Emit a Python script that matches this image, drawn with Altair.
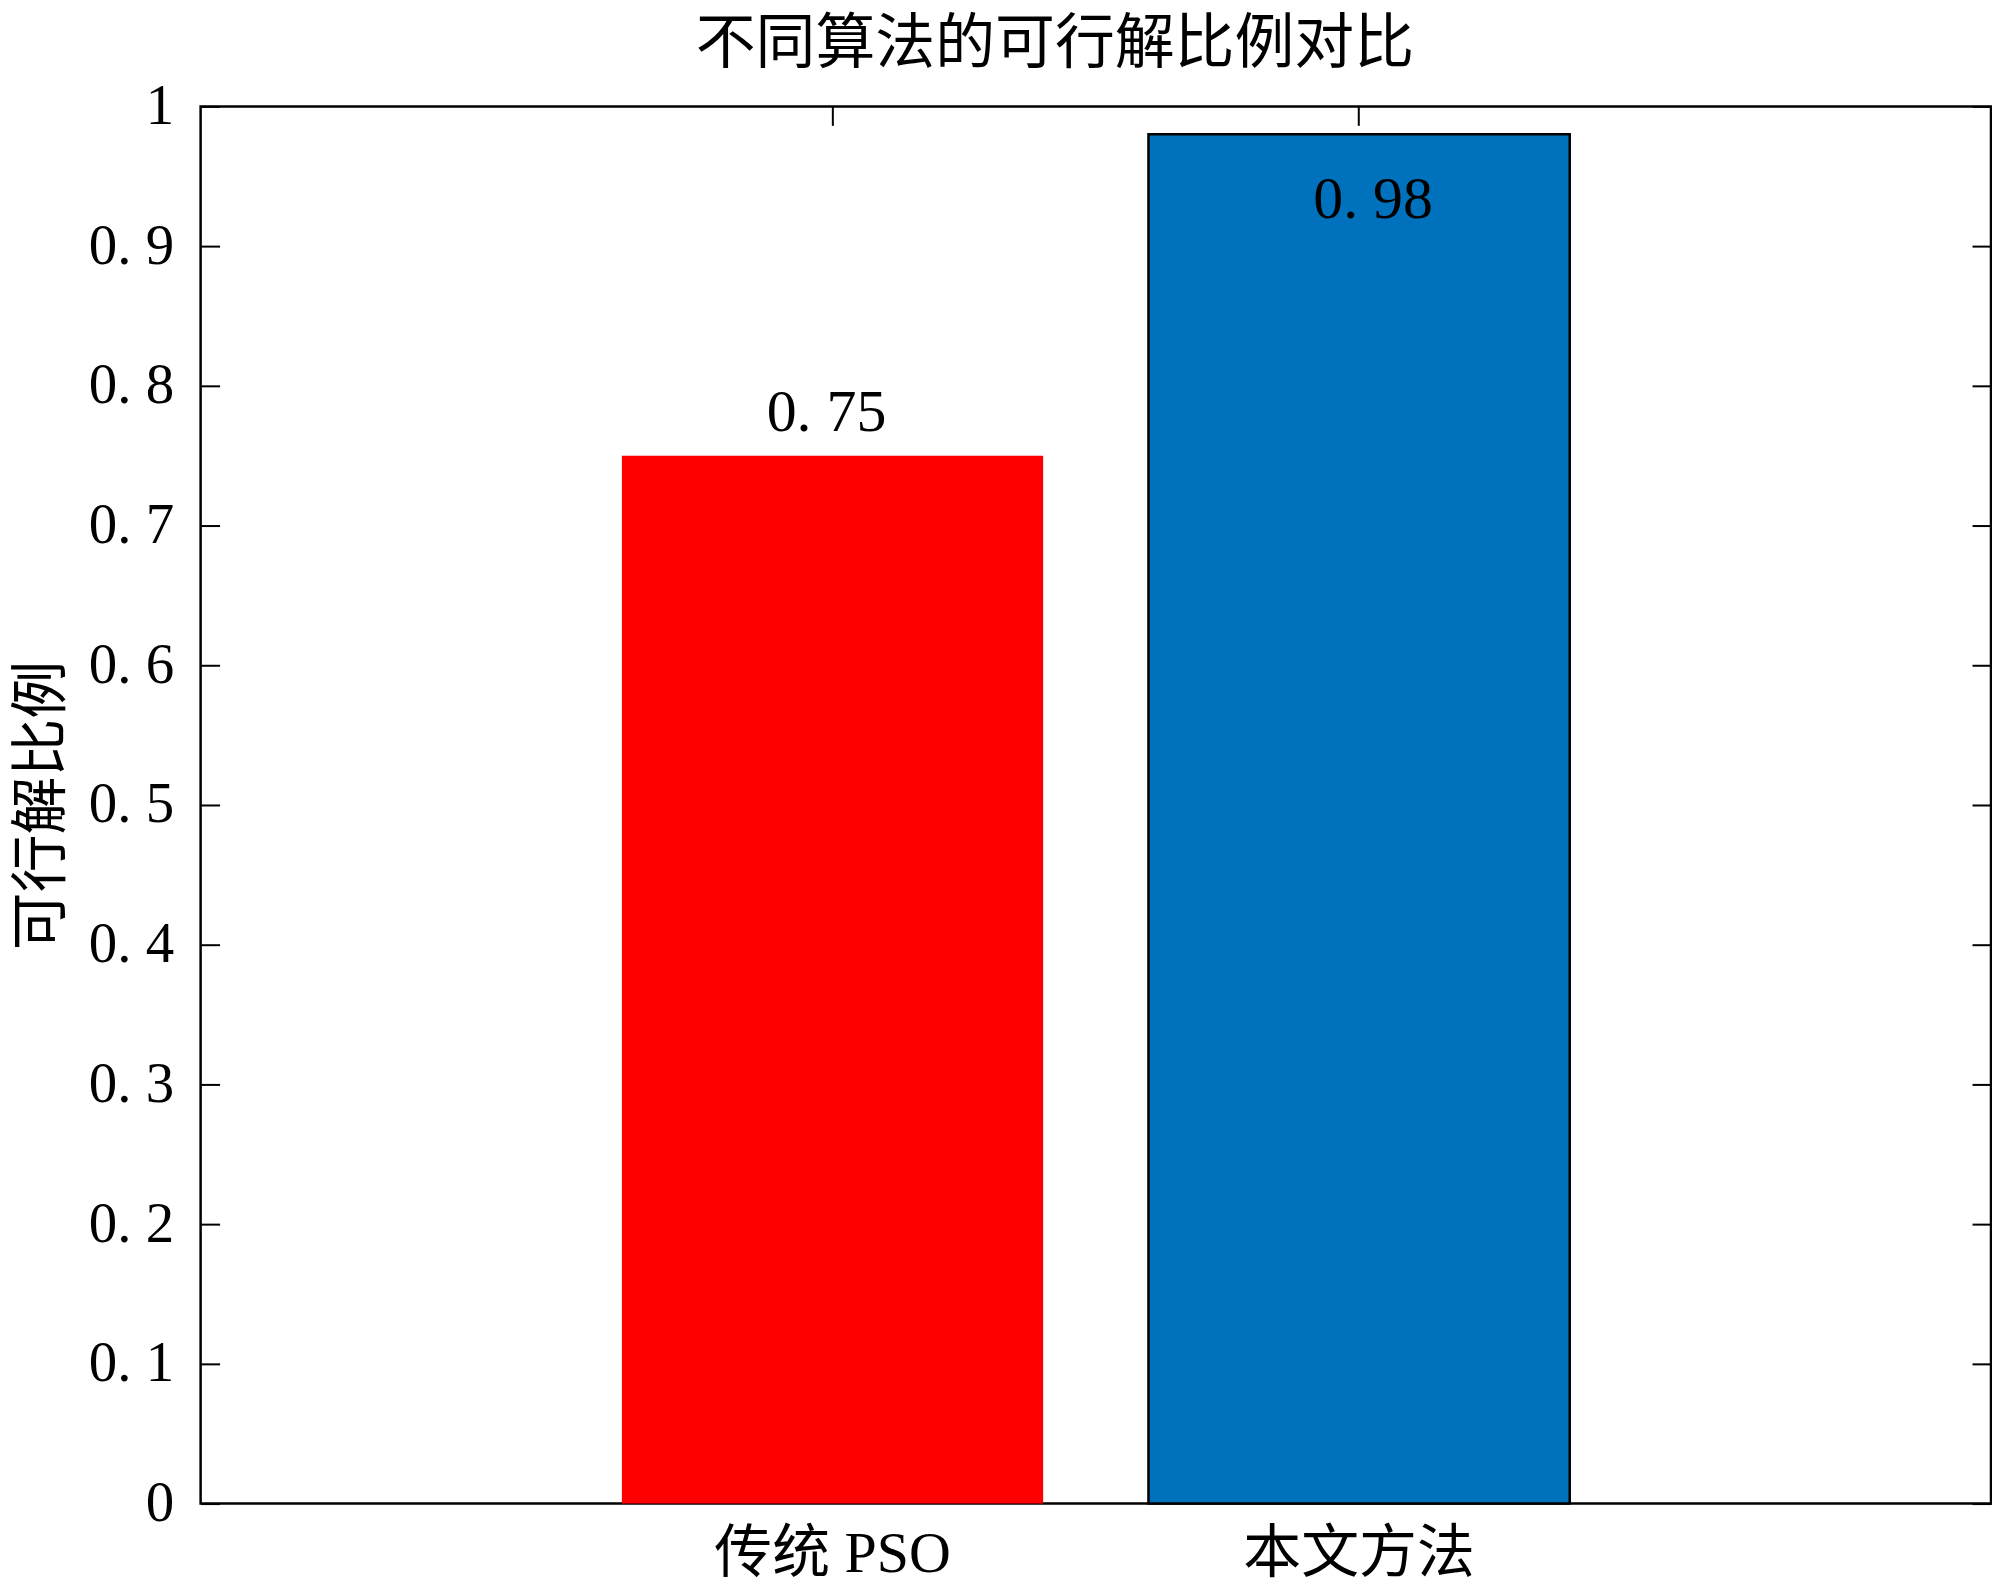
import altair as alt
import pandas as pd

methods = ["传统 PSO", "本文方法"]
ratios = [0.75, 0.98]
bar_colors = ["#FF0000", "#0072BD"]
y_ticks = [0, 0.1, 0.2, 0.3, 0.4, 0.5, 0.6, 0.7, 0.8, 0.9, 1.0]

df = pd.DataFrame({"method": methods, "ratio": ratios})

FONT = "Liberation Serif, Noto Sans CJK SC"
TICK = 19
W, H = 1794, 1400

xscale = alt.Scale(domain=methods, paddingInner=0.2, paddingOuter=0.8)
yscale = alt.Scale(domain=[0, 1], nice=False, zero=True)
label_expr = "replace(format(datum.value, '.1~f'), '.', '. ')"

color = alt.Color("method:N", scale=alt.Scale(domain=methods, range=bar_colors), legend=None)

base = alt.Chart(df)

bars = base.mark_bar(stroke="black").encode(
    x=alt.X("method:N", scale=xscale, sort=methods, title=None,
            axis=alt.Axis(orient="bottom", ticks=False, domain=False, grid=False,
                          labelFont=FONT, labelFontSize=58, labelColor="black",
                          labelPadding=22, labelAngle=0, labelBaseline="top",
                          labelLimit=0)),
    y=alt.Y("ratio:Q", scale=yscale, title="可行解比例",
            axis=alt.Axis(orient="left", ticks=False, domain=False, grid=False,
                          values=y_ticks, labelExpr=label_expr,
                          labelFont=FONT, labelFontSize=57, labelColor="black",
                          labelPadding=27, titleFont=FONT, titleFontSize=58,
                          titleColor="black", titleFontWeight="normal",
                          titlePadding=17)),
    color=color,
    strokeWidth=alt.condition(alt.datum.method == "本文方法", alt.value(2.5), alt.value(0)),
)

ticks_bl = base.mark_bar(opacity=0).encode(
    x=alt.X("method:N", scale=xscale, sort=methods, title=None,
            axis=alt.Axis(orient="bottom", offset=-TICK, tickSize=TICK, tickWidth=2,
                          tickColor="black", labels=False, domain=False, grid=False)),
    y=alt.Y("ratio:Q", scale=yscale, title=None,
            axis=alt.Axis(orient="left", offset=-TICK, tickSize=TICK, tickWidth=2,
                          tickColor="black", values=y_ticks, labels=False,
                          domain=False, grid=False)),
)

ticks_tr = base.mark_bar(opacity=0).encode(
    x=alt.X("method:N", scale=xscale, sort=methods, title=None,
            axis=alt.Axis(orient="top", offset=-TICK, tickSize=TICK, tickWidth=2,
                          tickColor="black", labels=False, domain=False, grid=False)),
    y=alt.Y("ratio:Q", scale=yscale, title=None,
            axis=alt.Axis(orient="right", offset=-TICK, tickSize=TICK, tickWidth=2,
                          tickColor="black", values=y_ticks, labels=False,
                          domain=False, grid=False)),
)

lbl = base.transform_calculate(
    txt="replace(format(datum.ratio, '.2f'), '.', '. ')"
)

text_above = lbl.transform_filter(alt.datum.method == methods[0]).mark_text(
    font=FONT, fontSize=60, color="black", baseline="alphabetic", dy=-25, dx=-6
).encode(
    x=alt.X("method:N", scale=xscale, sort=methods, axis=None),
    y=alt.Y("ratio:Q", scale=yscale, axis=None),
    text="txt:N",
)

text_inside = lbl.transform_filter(alt.datum.method == methods[1]).mark_text(
    font=FONT, fontSize=60, color="black", baseline="alphabetic", dy=84, dx=14
).encode(
    x=alt.X("method:N", scale=xscale, sort=methods, axis=None),
    y=alt.Y("ratio:Q", scale=yscale, axis=None),
    text="txt:N",
)

chart = alt.layer(bars, ticks_bl, ticks_tr, text_above, text_inside).resolve_axis(
    x="independent", y="independent"
).properties(
    width=W, height=H,
    padding={"left": 5, "top": 6, "right": 0, "bottom": 0},
    title=alt.TitleParams("不同算法的可行解比例对比", font=FONT, fontSize=60,
                          fontWeight="normal", color="black", frame="group",
                          anchor="middle", dx=-41, dy=-3, offset=-2),
).configure(background="white").configure_view(stroke="black", strokeWidth=2.5)

chart.save("out.html", embed_options={"renderer": "svg", "actions": False})
